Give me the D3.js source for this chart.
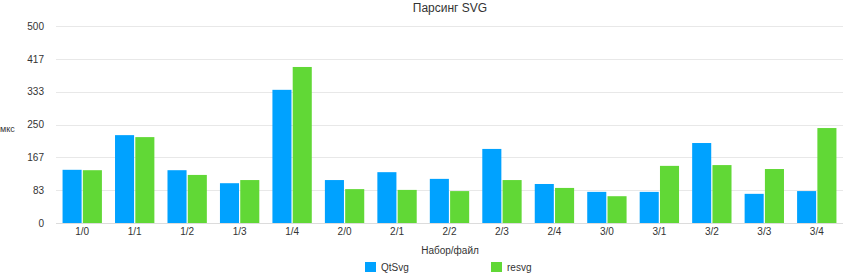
<!DOCTYPE html>
<html>
<head>
<meta charset="utf-8">
<script src="https://cdn.jsdelivr.net/npm/d3@7"></script>
<style>
  body { margin: 0; background: #fff; }
  svg { display: block; font-family: "Liberation Sans", Arial, sans-serif; }
</style>
</head>
<body>
<svg id="chart" width="843" height="274"></svg>
<script>
const categories = ['1/0', '1/1', '1/2', '1/3', '1/4', '2/0', '2/1', '2/2', '2/3', '2/4', '3/0', '3/1', '3/2', '3/3', '3/4'];
const qtsvg = [135, 223, 134, 101, 338, 109, 129, 112, 188, 99, 79, 79, 203, 74, 81];
const resvg = [134, 218, 122, 109, 396, 86, 84, 81, 109, 89, 68, 145, 147, 137, 241];
const series = ['QtSvg', 'resvg'];
const colors = ['#00a2ff', '#61d836'];
const tickValues = [0, 500 / 6, 1000 / 6, 250, 2000 / 6, 2500 / 6, 500];

const svg = d3.select('#chart');
const plotLeft = 56, plotRight = 843, plotTop = 26, plotBottom = 223;

const x = d3.scaleBand()
  .domain(categories)
  .range([plotLeft, plotRight])
  .paddingInner(0.25)
  .paddingOuter(0.125);

const xs = d3.scaleBand()
  .domain(series)
  .range([0, x.bandwidth()])
  .paddingInner(0.06);

const y = d3.scaleLinear()
  .domain([0, 500])
  .range([plotBottom, plotTop]);

// grid lines
svg.append('g')
  .selectAll('line')
  .data(tickValues)
  .enter().append('line')
    .attr('x1', plotLeft)
    .attr('x2', plotRight)
    .attr('y1', d => Math.round(y(d)) + 0.5)
    .attr('y2', d => Math.round(y(d)) + 0.5)
    .attr('stroke', d => d === 0 ? '#dcdcdc' : '#e8e8e8')
    .attr('stroke-width', 1);

// y tick labels
const yAxis = svg.append('g')
  .attr('transform', `translate(${plotLeft - 12},0)`)
  .call(d3.axisLeft(y).tickValues(tickValues).tickSize(0).tickPadding(0)
    .tickFormat(d => Math.round(d)));
yAxis.select('.domain').remove();
yAxis.selectAll('text')
  .attr('font-size', 10)
  .attr('fill', '#333')
  .attr('font-family', '"Liberation Sans", Arial, sans-serif');

// bars
const groups = svg.append('g')
  .selectAll('g')
  .data(categories.map((c, i) => ({ c, vals: [qtsvg[i], resvg[i]] })))
  .enter().append('g')
    .attr('transform', d => `translate(${x(d.c)},0)`);

groups.selectAll('rect')
  .data(d => d.vals.map((v, j) => ({ s: series[j], v, j })))
  .enter().append('rect')
    .attr('x', d => xs(d.s))
    .attr('width', xs.bandwidth())
    .attr('y', d => y(d.v))
    .attr('height', d => y(0) - y(d.v))
    .attr('fill', d => colors[d.j]);

// x labels
const xAxis = svg.append('g')
  .attr('transform', `translate(0,${plotBottom + 4})`)
  .call(d3.axisBottom(x).tickSize(0).tickPadding(0));
xAxis.select('.domain').remove();
xAxis.selectAll('text')
  .attr('font-size', 10)
  .attr('fill', '#333')
  .attr('dy', '0.75em')
  .attr('font-family', '"Liberation Sans", Arial, sans-serif');

// title
svg.append('text')
  .attr('x', 450)
  .attr('y', 12)
  .attr('text-anchor', 'middle')
  .attr('font-size', 12)
  .attr('fill', '#333')
  .text('Парсинг SVG');

// axis titles
svg.append('text')
  .attr('x', 450)
  .attr('y', 254)
  .attr('text-anchor', 'middle')
  .attr('font-size', 10)
  .attr('fill', '#333')
  .text('Набор/файл');

svg.append('text')
  .attr('x', 0)
  .attr('y', 132)
  .attr('font-size', 9)
  .attr('fill', '#333')
  .text('мкс');

// legend
const legendX = [365, 491];
const legend = svg.append('g')
  .selectAll('g')
  .data(series)
  .enter().append('g')
    .attr('transform', (d, i) => `translate(${legendX[i]},262)`);

legend.append('rect')
  .attr('width', 11)
  .attr('height', 10)
  .attr('fill', (d, i) => colors[i]);

legend.append('text')
  .attr('x', 16)
  .attr('y', 9)
  .attr('font-size', 10)
  .attr('fill', '#333')
  .text(d => d);
</script>
</body>
</html>
